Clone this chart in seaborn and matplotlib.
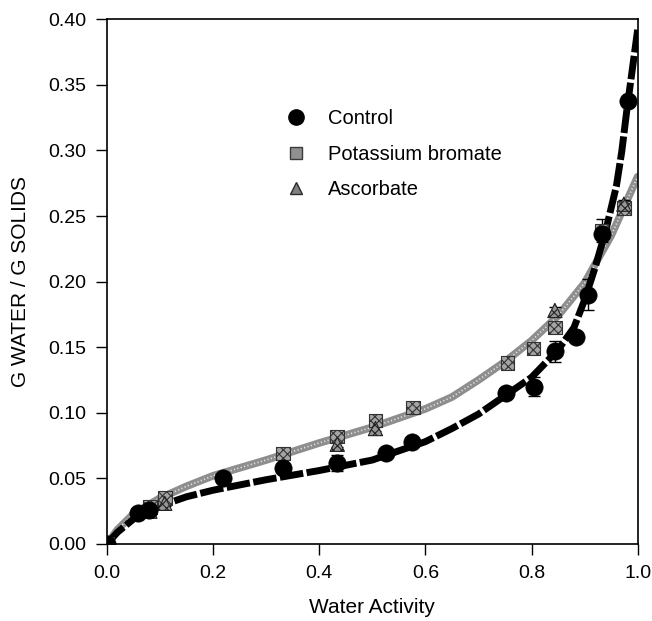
import numpy as np
import pandas as pd
import seaborn as sns
import matplotlib.pyplot as plt
from matplotlib.lines import Line2D

# measured points (water activity, g water / g solids, error)
ctrl_aw = [0.0, 0.058, 0.080, 0.219, 0.332, 0.434, 0.525, 0.575, 0.751, 0.804, 0.844, 0.883, 0.906, 0.932, 0.981]
ctrl_m = [0.0, 0.024, 0.026, 0.050, 0.058, 0.062, 0.069, 0.078, 0.115, 0.120, 0.147, 0.158, 0.190, 0.236, 0.338]
ctrl_err = [0.0, 0.002, 0.002, 0.002, 0.002, 0.006, 0.002, 0.002, 0.004, 0.007, 0.008, 0.003, 0.012, 0.004, 0.003]

pb_aw = [0.0, 0.081, 0.109, 0.332, 0.434, 0.506, 0.577, 0.755, 0.804, 0.844, 0.932, 0.974]
pb_m = [0.0, 0.028, 0.035, 0.069, 0.082, 0.094, 0.104, 0.138, 0.149, 0.165, 0.239, 0.256]
pb_err = [0.0, 0.002, 0.002, 0.002, 0.003, 0.002, 0.002, 0.002, 0.002, 0.003, 0.009, 0.004]

asc_aw = [0.0, 0.081, 0.109, 0.434, 0.506, 0.844, 0.974]
asc_m = [0.0, 0.025, 0.031, 0.076, 0.088, 0.178, 0.259]
asc_err = [0.0, 0.002, 0.002, 0.002, 0.002, 0.003, 0.003]

# fitted curves
fit_ctrl_aw = [0.0, 0.02, 0.05, 0.1, 0.15, 0.2, 0.3, 0.4, 0.5, 0.6, 0.65, 0.7, 0.75, 0.8, 0.85,
               0.88, 0.9, 0.92, 0.94, 0.96, 0.97, 0.98, 0.99, 1.0]
fit_ctrl_m = [0.0, 0.009, 0.019, 0.029, 0.036, 0.041, 0.049, 0.056, 0.064, 0.078, 0.088, 0.099,
              0.113, 0.127, 0.148, 0.165, 0.186, 0.211, 0.239, 0.273, 0.299, 0.332, 0.362, 0.392]
fit_trt_aw = [0.0, 0.02, 0.05, 0.1, 0.15, 0.2, 0.3, 0.4, 0.5, 0.6, 0.65, 0.7, 0.75, 0.8, 0.85,
              0.9, 0.95, 1.0]
fit_trt_m = [0.0, 0.011, 0.023, 0.035, 0.044, 0.052, 0.064, 0.077, 0.089, 0.103, 0.112, 0.125,
             0.139, 0.155, 0.174, 0.199, 0.235, 0.280]

sns.set_style("ticks")
plt.rcParams['font.family'] = ['Liberation Sans', 'DejaVu Sans']
plt.rcParams['hatch.linewidth'] = 0.8
plt.rcParams['text.color'] = 'black'
plt.rcParams['axes.labelcolor'] = 'black'

fig, ax = plt.subplots(figsize=(6.52, 6.21), dpi=100)
fig.subplots_adjust(left=0.164, right=0.978, bottom=0.124, top=0.969)

# fit lines
sns.lineplot(x=fit_trt_aw, y=fit_trt_m, ax=ax, color='#8e8e8e', linewidth=5.5,
             estimator=None, zorder=2)
sns.lineplot(x=fit_trt_aw, y=fit_trt_m, ax=ax, color='#e6e6e6', linewidth=1.2,
             linestyle=(0, (0.7, 1.4)), estimator=None, zorder=2)
sns.lineplot(x=fit_ctrl_aw, y=fit_ctrl_m, ax=ax, color='black', linewidth=5.0,
             linestyle=(0, (3.4, 0.5)), estimator=None, zorder=3)

# error bars
for xs, ys, es in [(ctrl_aw, ctrl_m, ctrl_err), (pb_aw, pb_m, pb_err), (asc_aw, asc_m, asc_err)]:
    ax.errorbar(xs, ys, yerr=es, fmt='none', ecolor='black', elinewidth=1.0,
                capsize=4, capthick=1.0, zorder=4)

# markers
sns.scatterplot(x=pb_aw, y=pb_m, ax=ax, marker='s', s=95, color='#a4a4a4',
                edgecolor='#333333', linewidth=0.8, hatch='xxxx', zorder=5)
sns.scatterplot(x=asc_aw, y=asc_m, ax=ax, marker='^', s=105, color='#959595',
                edgecolor='#222222', linewidth=0.8, hatch='xxxx', zorder=5)
sns.scatterplot(x=ctrl_aw, y=ctrl_m, ax=ax, marker='o', s=155, color='black',
                edgecolor='black', linewidth=0.5, zorder=6)

ax.set_xlim(0, 1.0)
ax.set_ylim(0, 0.40)
ax.set_xticks(np.arange(0, 1.01, 0.2))
ax.set_xticklabels([f"{v:.1f}" for v in np.arange(0, 1.01, 0.2)])
ax.set_yticks(np.arange(0, 0.401, 0.05))
ax.set_yticklabels([f"{v:.2f}" for v in np.arange(0, 0.401, 0.05)])
ax.tick_params(axis='both', direction='out', length=8, width=1.0, labelsize=14,
               colors='black', pad=7)
for sp in ax.spines.values():
    sp.set_visible(True)
    sp.set_linewidth(1.2)
    sp.set_color('black')

ax.set_xlabel('Water Activity', fontsize=15, labelpad=12)
ax.set_ylabel('G WATER / G SOLIDS', fontsize=15, labelpad=13)

handles = [
    Line2D([], [], marker='o', linestyle='none', color='black', markersize=11),
    Line2D([], [], marker='s', linestyle='none', markerfacecolor='#909090',
           markeredgecolor='#3a3a3a', markersize=9),
    Line2D([], [], marker='^', linestyle='none', markerfacecolor='#808080',
           markeredgecolor='#2a2a2a', markersize=9),
]
ax.legend(handles, ['Control', 'Potassium bromate', 'Ascorbate'], loc='upper left',
          bbox_to_anchor=(0.337, 0.829), frameon=False, fontsize=14.5,
          handlelength=1.0, handletextpad=1.1, labelspacing=0.83,
          borderpad=0, borderaxespad=0)

fig.savefig('out.png', dpi=100)
